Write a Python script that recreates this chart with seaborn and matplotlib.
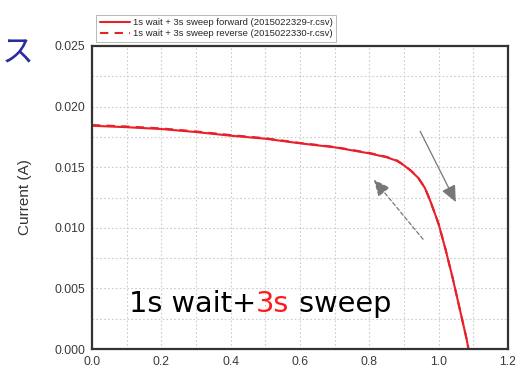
import matplotlib
matplotlib.use("Agg")
import matplotlib.pyplot as plt
import seaborn as sns
import pandas as pd
from matplotlib.ticker import MultipleLocator

# Data
volt_fwd = [0.0, 0.1, 0.2, 0.3, 0.4, 0.5, 0.6, 0.7, 0.8, 0.85, 0.88, 0.9, 0.92, 0.94, 0.96, 0.975, 0.99, 1.0, 1.02, 1.04, 1.06, 1.08, 1.086]
curr_fwd = [0.01842, 0.0183, 0.01815, 0.0179, 0.0176, 0.01735, 0.01697, 0.01664, 0.01614, 0.01582, 0.01552, 0.01515, 0.0147, 0.01415, 0.0133, 0.01228, 0.0111, 0.0103, 0.0082, 0.0059, 0.0034, 0.0009, 0.0]
volt_rev = [0.0, 0.1, 0.2, 0.3, 0.4, 0.5, 0.6, 0.7, 0.8, 0.85, 0.88, 0.9, 0.92, 0.94, 0.96, 0.975, 0.99, 1.0, 1.02, 1.04, 1.06, 1.08, 1.086]
curr_rev = [0.01848, 0.01836, 0.0182, 0.01795, 0.01765, 0.01739, 0.017, 0.01667, 0.01618, 0.01585, 0.01555, 0.01518, 0.01472, 0.01417, 0.01332, 0.01229, 0.0111, 0.0103, 0.0082, 0.0059, 0.0034, 0.0009, 0.0]
label_fwd = "1s wait + 3s sweep forward (2015022329-r.csv)"
label_rev = "1s wait + 3s sweep reverse (2015022330-r.csv)"
x_ticks = [0.0, 0.2, 0.4, 0.6, 0.8, 1.0, 1.2]
y_ticks = [0.000, 0.005, 0.010, 0.015, 0.020, 0.025]

df = pd.concat([
    pd.DataFrame({"V": volt_fwd, "I": curr_fwd, "series": label_fwd}),
    pd.DataFrame({"V": volt_rev, "I": curr_rev, "series": label_rev}),
])

sns.set_style("white")
plt.rcParams['font.family'] = ['Liberation Sans', 'DejaVu Sans']

fig = plt.figure(figsize=(5.2, 3.71), dpi=100)
ax = fig.add_axes([92/520, 1-349/371, 416/520, 303/371])

sns.lineplot(data=df, x="V", y="I", hue="series", style="series",
             palette=["#e8202a", "#e8202a"], dashes=[(None, None), (4, 3)],
             linewidth=1.5, ax=ax, sort=False, estimator=None, legend=True)

ax.set_xlim(0, 1.2)
ax.set_ylim(0, 0.025)
ax.set_xticks(x_ticks)
ax.set_yticks(y_ticks)
ax.set_xticklabels([f"{v:.1f}" for v in x_ticks])
ax.set_yticklabels([f"{v:.3f}" for v in y_ticks])
ax.xaxis.set_minor_locator(MultipleLocator(0.1))
ax.yaxis.set_minor_locator(MultipleLocator(0.0025))
ax.tick_params(which='both', direction='in', colors='#3a3a3a', labelsize=8.8, width=1, pad=5)
ax.tick_params(which='major', length=4)
ax.tick_params(which='minor', length=2)
ax.grid(True, which='both', linestyle=(0, (1.5, 2)), color='#cccccc', linewidth=0.8)
for s in ax.spines.values():
    s.set_color('#333333')
    s.set_linewidth(1.6)
ax.set_xlabel("")
ax.set_ylabel("Current (A)", fontsize=11, color='#333333', labelpad=16)

leg = ax.legend(loc='lower left', bbox_to_anchor=(0.0, 1.0), fontsize=6.8,
                frameon=True, fancybox=False, edgecolor='#999999',
                handlelength=3.2, handletextpad=0.3, borderaxespad=0.45,
                borderpad=0.35, labelspacing=0.25)
leg.get_frame().set_linewidth(0.6)

# arrows
ax.annotate("", xy=(1.053, 0.01192), xytext=(0.943, 0.01817),
            arrowprops=dict(arrowstyle="-|>,head_length=1.0,head_width=0.45",
                            color='#777777', lw=0.9))
ax.annotate("", xy=(0.808, 0.01414), xytext=(0.96, 0.00888),
            arrowprops=dict(arrowstyle="-|>,head_length=1.0,head_width=0.45",
                            color='#777777', lw=0.9, linestyle=(0, (3, 2))))

# multi-colour annotation text
fig.canvas.draw()
r = fig.canvas.get_renderer()
fp = dict(fontsize=20.7, family=['DejaVu Sans'])
x0, y0 = 129/520, 1-312/371
t1 = fig.text(x0, y0, "1s wait+", color='black', **fp)
w1 = t1.get_window_extent(r).width / 520
t2 = fig.text(x0 + w1, y0, "3s", color='#ff1a1a', **fp)
w2 = t2.get_window_extent(r).width / 520
fig.text(x0 + w1 + w2, y0, " sweep", color='black', **fp)

fig.text(0.003, 1-62/371, "ス", color='#2b2ba0', fontsize=23,
         family=['Noto Sans CJK JP', 'DejaVu Sans'])

fig.savefig("out.png", dpi=100)
